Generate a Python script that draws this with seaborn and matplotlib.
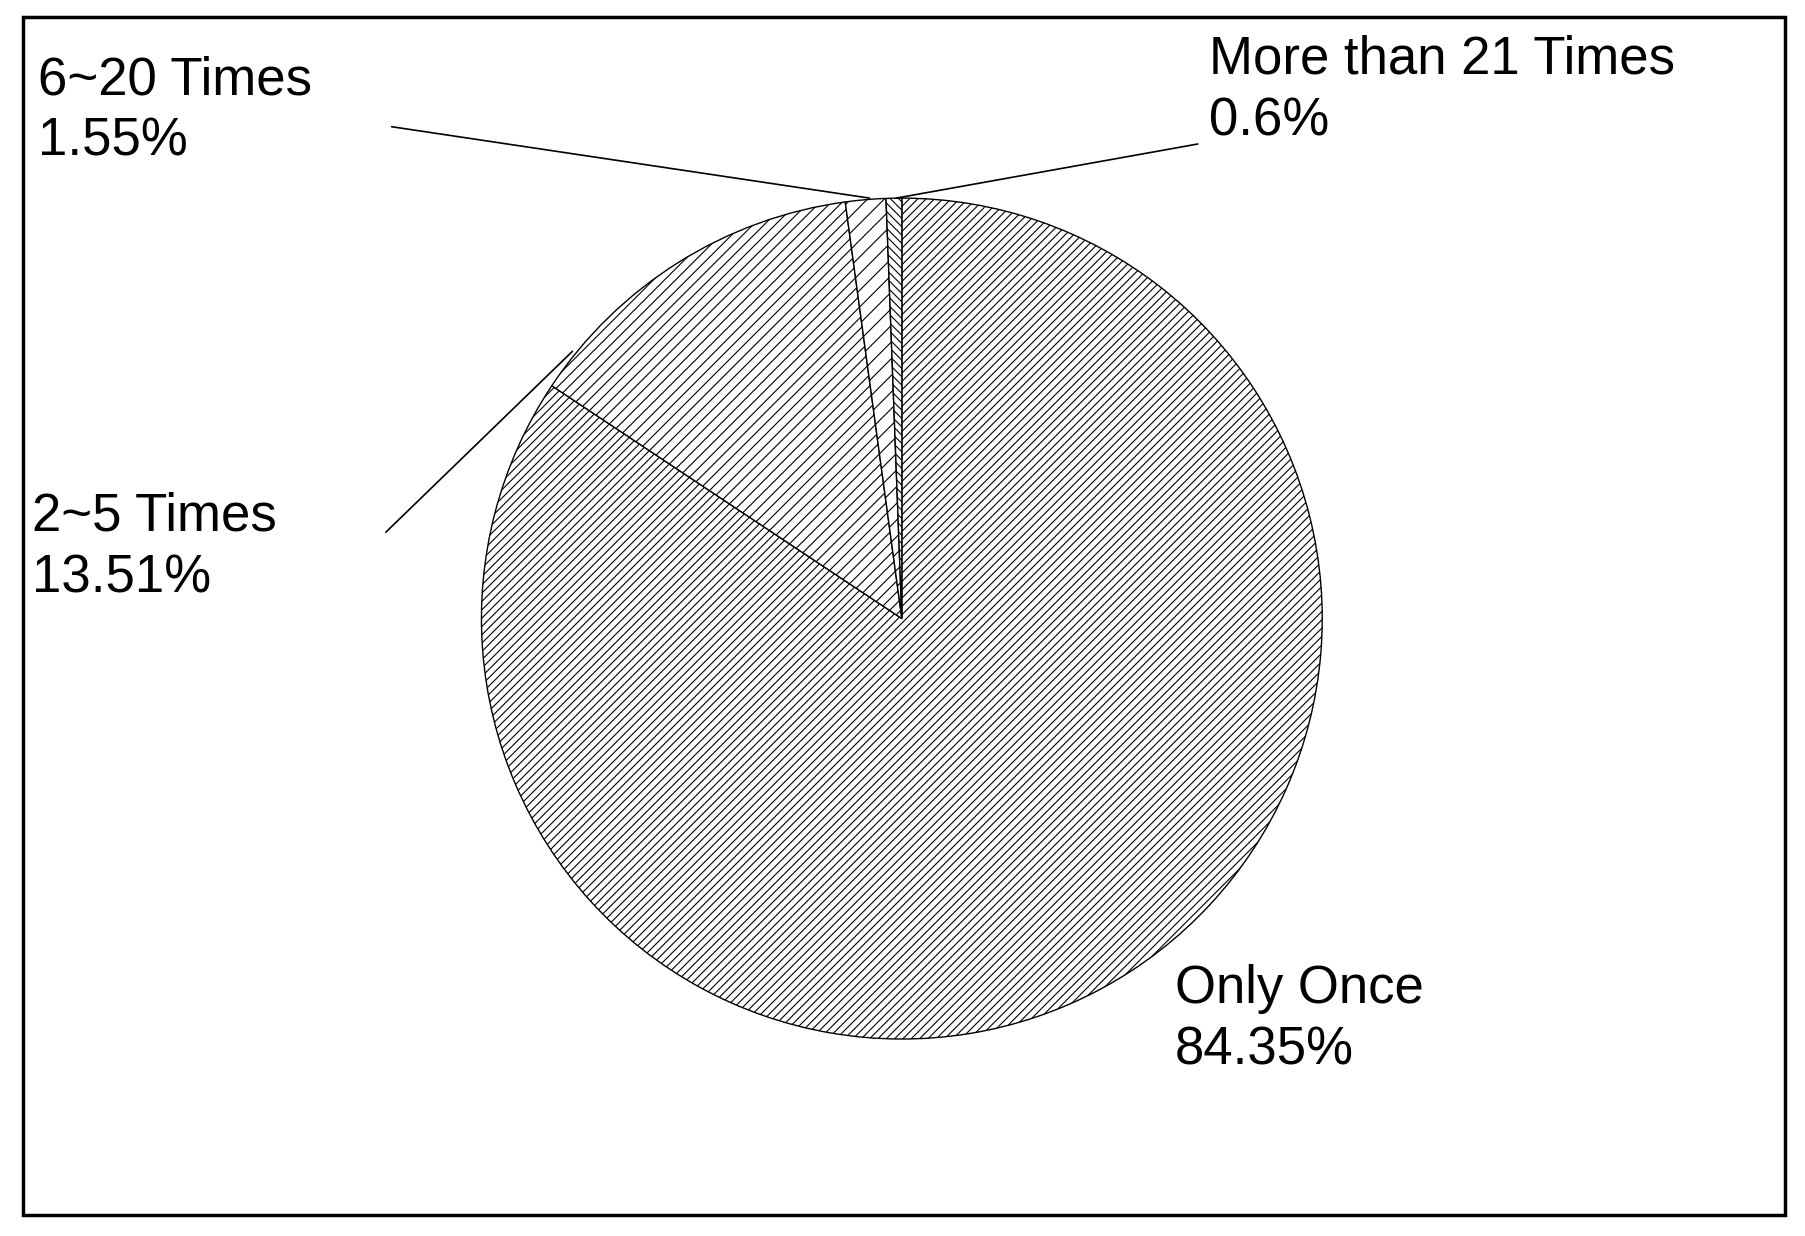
import matplotlib
matplotlib.use("Agg")
import matplotlib.pyplot as plt
import seaborn as sns

labels = ["Only Once", "2~5 Times", "6~20 Times", "More than 21 Times"]
values = [84.35, 13.51, 1.55, 0.6]
pct_text = ["84.35%", "13.51%", "1.55%", "0.6%"]
hatches = ["////", "///", "//", "\\\\\\\\"]

sns.set_theme(style="white")
plt.rcParams['font.family'] = ['Liberation Sans', 'DejaVu Sans']
plt.rcParams['hatch.linewidth'] = 0.8

# work in displayed-pixel units (1568 x 1073), y upward
W, H = 1568, 1073
fig = plt.figure(figsize=(18.06, 12.36), dpi=100)
ax = fig.add_axes([0, 0, 1, 1])

wedges, _ = ax.pie(values, startangle=90, counterclock=False, center=(783, H - 537),
                   radius=365, colors=["white"] * 4, frame=True,
                   wedgeprops=dict(edgecolor="black", linewidth=1.0))
for w, h in zip(wedges, hatches):
    w.set_hatch(h)
ax.set_aspect('auto')
ax.set_xlim(0, W)
ax.set_ylim(0, H)
ax.axis('off')

# frame
ax.add_patch(plt.Rectangle((20, H - 1055), 1530, 1040, fill=False, edgecolor="black", lw=2.5))

fs = 38
def label(x, y, i):
    ax.text(x, H - y, labels[i] + "\n" + pct_text[i], fontsize=fs, va='top', ha='left',
            linespacing=1.3, color="black")

def leader(p0, p1):
    ax.plot([p0[0], p1[0]], [H - p0[1], H - p1[1]], color="black", lw=1.2)

label(33, 48, 2)
label(1050, 30, 3)
label(28, 427, 1)
label(1020, 837, 0)
leader((340, 110), (755, 172))
leader((1040, 125), (778, 172))
leader((335, 462), (497, 305))

fig.savefig("out.png", dpi=100)
